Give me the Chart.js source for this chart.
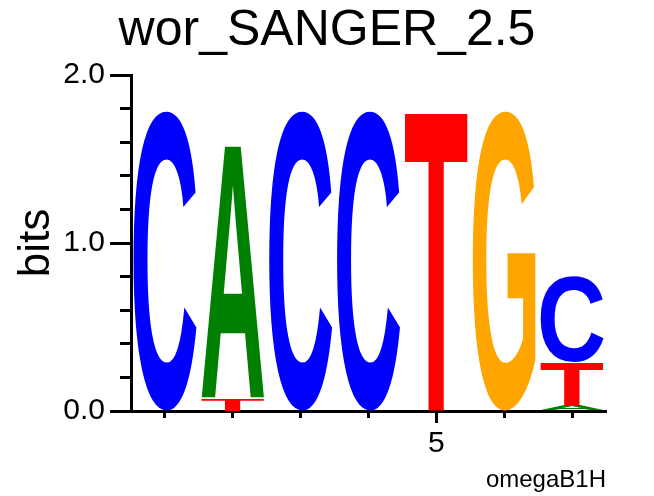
<!DOCTYPE html>
<html><head><meta charset="utf-8">
<script src="https://cdn.jsdelivr.net/npm/chart.js@4.4.1/dist/chart.umd.min.js"></script>
<style>html,body{margin:0;padding:0;background:#fff;} #wrap{width:654px;height:496px;}</style>
</head><body><div id="wrap"><canvas id="c" width="654" height="496"></canvas></div>
<script>
// ---- data ----
const positions = ['1', '2', '3', '4', '5', '6', '7'];
const heightA = [0, 1.506, 0, 0, 0, 0, 0.032];
const heightC = [1.786, 0, 1.786, 1.786, 0, 0, 0.506];
const heightG = [0, 0, 0, 0, 0, 1.786, 0];
const heightT = [0, 0.071, 0, 0, 1.786, 0, 0.26];
const yMajorTicks = [0, 1, 2];
const yTickLabels = ['0.0', '1.0', '2.0'];
const yMinorTicks = [0.2, 0.4, 0.6, 0.8, 1.2, 1.4, 1.6, 1.8];
const xMajorLabels = ['5'];
const letterColors = { A: '#008000', C: '#0000ff', G: '#ffa500', T: '#ff0000' };

// ---- build stacked layers (smallest letter at bottom) ----
const byLetter = { A: heightA, C: heightC, G: heightG, T: heightT };
const columns = positions.map((p, i) =>
  Object.keys(byLetter).map(l => ({ l, v: byLetter[l][i] }))
    .filter(o => o.v > 0).sort((a, b) => a.v - b.v));
const nLayers = Math.max(...columns.map(c => c.length));
const datasets = [];
for (let k = 0; k < nLayers; k++) {
  datasets.push({
    data: columns.map(c => c[k] ? c[k].v : 0),
    letters: columns.map(c => c[k] ? c[k].l : null),
    backgroundColor: 'rgba(0,0,0,0)', borderWidth: 0,
    xAxisID: 'x', yAxisID: 'y'
  });
}

Chart.defaults.font.family = '"Liberation Sans", Arial, Helvetica, sans-serif';
Chart.defaults.color = '#000';

const logoPlugin = {
  id: 'logo',
  afterDatasetsDraw(chart) {
    const ctx = chart.ctx;
    chart.data.datasets.forEach((ds, i) => {
      const meta = chart.getDatasetMeta(i);
      meta.data.forEach((bar, j) => {
        const letter = ds.letters[j];
        if (!letter || !(ds.data[j] > 0)) return;
        const { x, y, base, width } = bar.getProps(['x', 'y', 'base', 'width'], true);
        const left = x - width / 2;
        const top = Math.min(y, base);
        const h = Math.abs(base - y);
        ctx.save();
        ctx.font = 'bold 200px "Liberation Sans", Arial, sans-serif';
        ctx.textAlign = 'left';
        ctx.textBaseline = 'alphabetic';
        const m = ctx.measureText(letter);
        const gl = m.actualBoundingBoxLeft, gr = m.actualBoundingBoxRight;
        const ga = m.actualBoundingBoxAscent, gd = m.actualBoundingBoxDescent;
        ctx.translate(left, top);
        ctx.scale(width / (gl + gr), h / (ga + gd));
        ctx.fillStyle = letterColors[letter];
        ctx.fillText(letter, gl, ga);
        ctx.restore();
      });
    });
  }
};

new Chart(document.getElementById('c'), {
  type: 'bar',
  data: { labels: positions, datasets },
  plugins: [logoPlugin],
  options: {
    responsive: false,
    animation: false,
    devicePixelRatio: 1,
    layout: { padding: 0 },
    datasets: { bar: { categoryPercentage: 1, barPercentage: 0.928 } },
    plugins: {
      legend: { display: false },
      tooltip: { enabled: false },
      title: {
        display: true, text: 'wor_SANGER_2.5', color: '#000',
        font: { size: 50, weight: 'normal' },
        padding: { top: 1, bottom: 14 }
      }
    },
    scales: {
      y: {
        type: 'linear', position: 'left', weight: 1, min: 0, max: 2, stacked: true,
        afterBuildTicks: s => { s.ticks = yMajorTicks.map(v => ({ value: v })); },
        afterFit: s => { s.width = 131; },
        ticks: { callback: v => yTickLabels[yMajorTicks.indexOf(v)], font: { size: 30 }, color: '#000', padding: 5 },
        grid: { drawOnChartArea: false, drawTicks: true, tickLength: 21, tickWidth: 3, tickColor: '#000' },
        border: { display: true, color: '#000', width: 3 },
        title: { display: true, text: 'bits', color: '#000', font: { size: 44 }, padding: { top: 10, bottom: 0 } }
      },
      yMinor: {
        type: 'linear', position: 'left', weight: 0, min: 0, max: 2,
        afterBuildTicks: s => { s.ticks = yMinorTicks.map(v => ({ value: v })); },
        afterFit: s => { s.width = 0; },
        ticks: { display: false },
        grid: { drawOnChartArea: false, drawTicks: true, tickLength: 11, tickWidth: 3, tickColor: '#000' },
        border: { display: false }
      },
      yRight: {
        type: 'linear', position: 'right', min: 0, max: 2,
        afterFit: s => { s.width = 48; },
        ticks: { display: false },
        grid: { display: false },
        border: { display: false }
      },
      x: {
        type: 'category', position: 'bottom', weight: 0, stacked: true, offset: true,
        afterFit: s => { s.height = 0; },
        ticks: { display: false },
        grid: { offset: false, drawOnChartArea: false, drawTicks: true, tickLength: 7, tickWidth: 3, tickColor: '#000' },
        border: { display: true, color: '#000', width: 3 }
      },
      xMajor: {
        type: 'category', position: 'bottom', weight: 1, offset: true,
        afterBuildTicks: s => { s.ticks = s.ticks.filter(t => xMajorLabels.includes(positions[t.value])); },
        afterFit: s => { s.height = 85; },
        ticks: { font: { size: 30 }, color: '#000', padding: 3, autoSkip: false, maxRotation: 0 },
        grid: { offset: false, drawOnChartArea: false, drawTicks: true, tickLength: 12, tickWidth: 3, tickColor: '#000' },
        border: { display: false },
        title: { display: true, text: 'omegaB1H', align: 'end', color: '#000', font: { size: 24 }, padding: { top: 0, bottom: 1 } }
      }
    }
  }
});
</script>
</body></html>
